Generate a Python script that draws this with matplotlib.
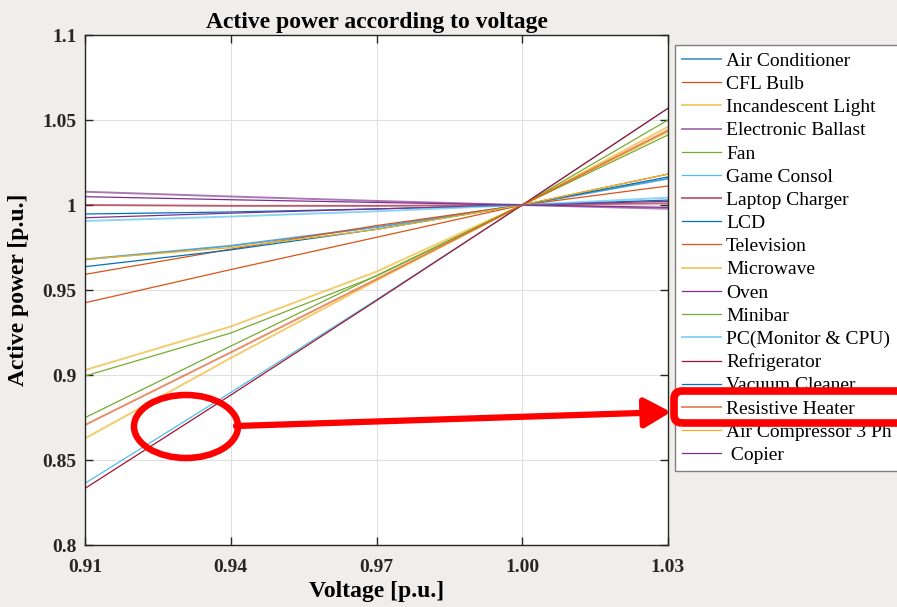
import numpy as np
import matplotlib
matplotlib.use('Agg')
import matplotlib.pyplot as plt
from matplotlib.patches import Ellipse, FancyBboxPatch, FancyArrowPatch
from matplotlib.transforms import IdentityTransform

plt.rcParams['font.family'] = ['Liberation Serif', 'DejaVu Serif']

# voltage points (p.u.) and active power (p.u.)
voltage = [0.91, 0.94, 0.97, 1.00, 1.03]

air_conditioner = [0.968, 0.976, 0.987, 1.0, 1.0155]
cfl_bulb = [0.9425, 0.962, 0.981, 1.0, 1.0182]
incandescent = [0.8627, 0.910, 0.9556, 1.0, 1.043]
electronic_ballast = [1.0078, 1.005, 1.0024, 1.0, 0.9978]
fan = [0.8749, 0.917, 0.9585, 1.0, 1.0412]
game_consol = [0.8363, 0.8897, 0.9443, 1.0, 1.0569]
laptop_charger = [1.0, 0.9995, 0.9995, 1.0, 1.001]
lcd = [0.9947, 0.9959, 0.9977, 1.0, 1.0029]
television = [0.9592, 0.974, 0.9879, 1.0, 1.0112]
microwave = [0.9029, 0.9285, 0.9608, 1.0, 1.046]
oven = [0.9925, 0.9952, 0.9977, 1.0, 1.0022]
minibar = [0.8994, 0.9247, 0.9582, 1.0, 1.05]
pc = [0.9906, 0.9932, 0.9963, 1.0, 1.0043]
refrigerator = [0.8333, 0.8882, 0.9438, 1.0, 1.0569]
vacuum_cleaner = [0.9637, 0.9736, 0.9857, 1.0, 1.0165]
resistive_heater = [0.8706, 0.9133, 0.9564, 1.0, 1.044]
air_compressor = [0.968, 0.9749, 0.9856, 1.0, 1.0182]
copier = [1.0049, 1.0031, 1.0015, 1.0, 0.9986]

names = ['Air Conditioner', 'CFL Bulb', 'Incandescent Light', 'Electronic Ballast',
         'Fan', 'Game Consol', 'Laptop Charger', 'LCD', 'Television', 'Microwave',
         'Oven', 'Minibar', 'PC(Monitor & CPU)', 'Refrigerator', 'Vacuum Cleaner',
         'Resistive Heater', 'Air Compressor 3 Ph', ' Copier']
series = [air_conditioner, cfl_bulb, incandescent, electronic_ballast, fan,
          game_consol, laptop_charger, lcd, television, microwave, oven, minibar,
          pc, refrigerator, vacuum_cleaner, resistive_heater, air_compressor, copier]

xticks = [0.91, 0.94, 0.97, 1.00, 1.03]
xtick_labels = ['0.91', '0.94', '0.97', '1.00', '1.03']
yticks = [0.8, 0.85, 0.9, 0.95, 1.0, 1.05, 1.1]
ytick_labels = ['0.8', '0.85', '0.9', '0.95', '1', '1.05', '1.1']

COLORS = ['#0072BD', '#D95319', '#EDB120', '#7E2F8E', '#77AC30', '#4DBEEE', '#A2142F']
# entries that look washed out / thicker in the original
faded = {0, 2, 3, 6, 9, 12, 15}

W, H = 897, 607
fig = plt.figure(figsize=(W / 100, H / 100), dpi=100, facecolor='#efeeea')
ax = fig.add_axes([85 / W, 1 - 545 / H, (668 - 85) / W, (545 - 35) / H])

handles = []
for i, (name, vals) in enumerate(zip(names, series)):
    if i in faded:
        h, = ax.plot(voltage, vals, color=COLORS[i % 7], lw=1.4, alpha=0.65)
    else:
        h, = ax.plot(voltage, vals, color=COLORS[i % 7], lw=0.9)
    handles.append(h)

ax.set_xlim(0.91, 1.03)
ax.set_ylim(0.8, 1.1)
ax.set_xticks(xticks, labels=xtick_labels, fontweight='bold')
ax.set_yticks(yticks, labels=ytick_labels, fontweight='bold')
ax.tick_params(direction='in', length=6, width=1, top=True, right=True,
               labelsize=14, colors='#262626')
ax.tick_params(axis='x', pad=10)
ax.tick_params(axis='y', pad=6)
ax.grid(True, color='#e0e0e0', lw=0.8)
ax.set_axisbelow(True)
for s in ax.spines.values():
    s.set_color('#262626')
    s.set_linewidth(1)

ax.set_xlabel('Voltage [p.u.]', fontsize=17, fontweight='bold', labelpad=4)
ax.set_ylabel('Active power [p.u.]', fontsize=17, fontweight='bold', labelpad=10)
ax.set_title('Active power according to voltage', fontsize=17, fontweight='bold', pad=5)

leg = fig.legend(handles, names, loc='upper left', bbox_to_anchor=(675 / W, 1 - 45 / H),
                 fontsize=14, frameon=True, fancybox=False, borderaxespad=0,
                 handlelength=2.0, handletextpad=0.25, labelspacing=0.285, borderpad=0.38)
leg.get_frame().set_edgecolor('#7f7f7f')
leg.get_frame().set_linewidth(1)
leg.get_frame().set_alpha(1)

# red highlight marks (pixel positions in the image)
def px(x, y):
    return (x, H - y)

ell = Ellipse(px(186, 426.5), 104, 63, transform=IdentityTransform(),
              fill=False, ec='red', lw=4.7, zorder=10)
fig.add_artist(ell)
arr = FancyArrowPatch(px(236, 426), px(671, 412), transform=IdentityTransform(),
                      arrowstyle='-|>,head_length=0.8,head_width=0.45', mutation_scale=20,
                      color='red', lw=4.5, shrinkA=0, shrinkB=0, zorder=10)
fig.add_artist(arr)
box = FancyBboxPatch(px(674, 423), 260, 32, boxstyle='round,pad=0,rounding_size=8',
                     transform=IdentityTransform(), fill=False, ec='red', lw=5.5, zorder=10)
fig.add_artist(box)

fig.savefig('out.png', dpi=100, facecolor=fig.get_facecolor())
